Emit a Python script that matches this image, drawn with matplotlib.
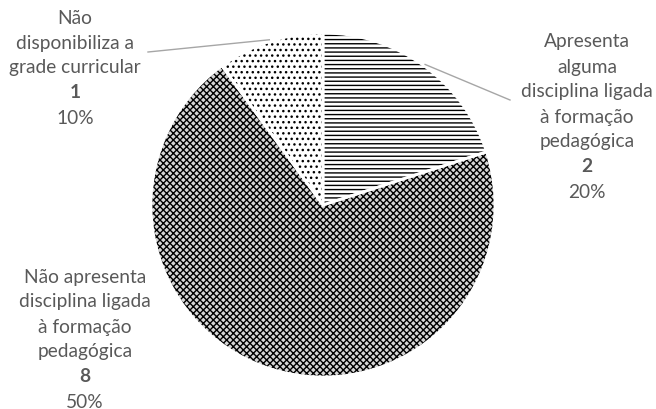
import numpy as np
import matplotlib
matplotlib.use("Agg")
import matplotlib.pyplot as plt

# slices clockwise from 12 o'clock
names = ["Apresenta\nalguma\ndisciplina ligada\nà formação\npedagógica",
         "Não apresenta\ndisciplina ligada\nà formação\npedagógica",
         "Não\ndisponibiliza a\ngrade curricular"]
counts = ["2", "8", "1"]
pct_labels = ["20%", "50%", "10%"]
shares = [20, 70, 10]          # slice sizes as drawn
hatches = ["----", "xxxxx", "..."]
fills = ["white", "#d6d6d6", "white"]

plt.rcParams['font.family'] = ['Lato', 'DejaVu Sans']
plt.rcParams['hatch.linewidth'] = 1.0

fig = plt.figure(figsize=(6.56, 4.09), dpi=100)
ax = fig.add_axes([0, 0, 1, 1])
R = 172.0

wedges, _ = ax.pie(shares, startangle=90, counterclock=False, radius=1,
                   wedgeprops=dict(edgecolor='black', linewidth=0))
for w, h, f in zip(wedges, hatches, fills):
    w.set_hatch(h)
    w.set_facecolor(f)
ax.pie(shares, startangle=90, counterclock=False, radius=1,
       wedgeprops=dict(fill=False, edgecolor='white', linewidth=2))

ax.set_xlim(-323 / R, (656 - 323) / R)
ax.set_ylim((205 - 409) / R, 205 / R)
ax.set_aspect('equal')
ax.axis('off')

# label layout (pixels): center x, first line y, leader start
layout = [(587, 42, (510, 100)), (85, 277, None), (75, 18, (148, 52))]
step = 25.0
col = '#595959'
for i, (cx, y0, lead) in enumerate(layout):
    lines = names[i].split("\n") + [counts[i], pct_labels[i]]
    for k, txt in enumerate(lines):
        bold = k == len(lines) - 2
        ax.text((cx - 323) / R, (205 - (y0 + k * step)) / R, txt,
                ha='center', va='center', fontsize=13.8, color=col,
                fontweight='bold' if bold else 'normal')
    if lead is not None:
        w = wedges[i]
        mid = np.deg2rad((w.theta1 + w.theta2) / 2)
        ax.plot([(lead[0] - 323) / R, 1.01 * np.cos(mid)],
                [(205 - lead[1]) / R, 1.01 * np.sin(mid)],
                color='#a6a6a6', linewidth=1)

fig.savefig("out.png", dpi=100)
